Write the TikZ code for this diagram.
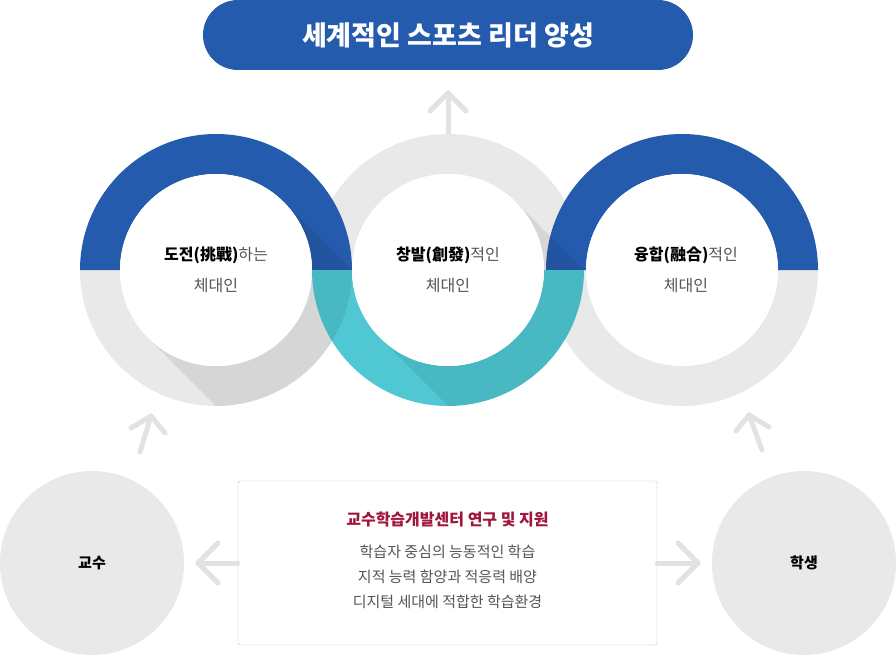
\documentclass[tikz,border=0pt]{standalone}
\usepackage{fontspec}
\setmainfont{Noto Sans CJK KR}
\usetikzlibrary{positioning}
\definecolor{ringblue}{HTML}{255BAD}
\definecolor{ringteal}{HTML}{4FC8D3}
\definecolor{ringgray}{HTML}{E9E9E9}
\definecolor{arrowgray}{HTML}{E2E2E2}
\definecolor{boxred}{HTML}{A0163E}
\definecolor{txtgray}{HTML}{555555}
\begin{document}
\begin{tikzpicture}[x=1pt,y=1pt,
    every node/.style={font=\fontsize{15}{18}\selectfont, text=txtgray},
    chev/.style={draw=arrowgray, line width=5pt, line cap=round, line join=round},
    ringlabel/.style={align=center, text=txtgray, font=\fontsize{16}{31}\selectfont},
    person/.style={circle, fill=ringgray, minimum size=184pt, text=black, font=\fontsize{15}{18}\selectfont\bfseries}
  ]
  \useasboundingbox (0,0) rectangle (896,-655);

  % title
  \node[fill=ringblue, rounded corners=35pt, minimum width=490pt, minimum height=70pt,
        text=white, font=\fontsize{27}{30}\selectfont\bfseries] (title) at (448,-35) {세계적인 스포츠 리더 양성};

  % up arrow
  \coordinate (upA) at (448,-133);
  \coordinate (upB) at (448,-93);
  \draw[chev] (upA) -- (upB);
  \draw[chev] (430,-111) -- (upB) -- (466,-111);

  % rings: gray halves first, coloured halves on top
  \fill[ringgray] (312,-270) arc (180:0:136) -- (544,-270) arc (0:180:96) -- cycle;
  \fill[ringgray] (80,-270) arc (180:360:136) -- (312,-270) arc (360:180:96) -- cycle;
  \fill[ringgray] (546,-270) arc (180:360:136) -- (778,-270) arc (360:180:96) -- cycle;
  \fill[ringblue] (80,-270) arc (180:0:136) -- (312,-270) arc (0:180:96) -- cycle;
  \fill[ringblue] (546,-270) arc (180:0:136) -- (778,-270) arc (0:180:96) -- cycle;
  \fill[ringteal] (312,-270) arc (180:360:136) -- (544,-270) arc (360:180:96) -- cycle;

  % shadows
  \foreach \cx in {216,448}{
    \begin{scope}[even odd rule]
      \clip (\cx,-270) circle (136) (\cx,-270) circle (96);
      \fill[black, opacity=0.08] (\cx+67.9,-202.1) -- (\cx-67.9,-337.9) -- ++(200,-200) -- ++(136,136) -- cycle;
    \end{scope}
  }
  \fill[white] (216,-270) circle (96);
  \fill[white] (448,-270) circle (96);
  \fill[white] (682,-270) circle (96);

  \node[ringlabel] (challenge) at (216,-270) {\textcolor{black}{\bfseries 도전(挑戰)}하는\\체대인};
  \node[ringlabel] (creative) at (448,-270) {\textcolor{black}{\bfseries 창발(創發)}적인\\체대인};
  \node[ringlabel] (fusion) at (686,-270) {\textcolor{black}{\bfseries 융합(融合)}적인\\체대인};

  % diagonal arrows
  \coordinate (lA) at (140,-452);
  \coordinate (lB) at (151,-416);
  \draw[chev] (lA) -- (lB);
  \draw[chev] (131,-428) -- (lB) -- (165,-433);
  \coordinate (rA) at (762,-450);
  \coordinate (rB) at (749,-415);
  \draw[chev] (rA) -- (rB);
  \draw[chev] (736,-431) -- (rB) -- (769,-427);

  % people
  \node[person] (prof) at (92,-563) {교수};
  \node[person] (student) at (804,-563) {학생};

  % center box
  \node[draw=black!25, fill=white, rounded corners=2pt, minimum width=419pt, minimum height=164pt] (center) at (447.5,-563) {};
  \node[text=boxred, font=\fontsize{16}{18}\selectfont\bfseries] (ctitle) at (447.5,-519) {교수학습개발센터 연구 및 지원};
  \node[align=center, font=\fontsize{15}{25}\selectfont, below=11pt of ctitle] (clist)
    {학습자 중심의 능동적인 학습\\지적 능력 함양과 적응력 배양\\디지털 세대에 적합한 학습환경};

  % side arrows
  \draw[chev] (center.west) -- (198,-563);
  \draw[chev] (218,-543) -- (198,-563) -- (218,-583);
  \draw[chev] (center.east) -- (698,-563);
  \draw[chev] (678,-543) -- (698,-563) -- (678,-583);
\end{tikzpicture}
\end{document}
